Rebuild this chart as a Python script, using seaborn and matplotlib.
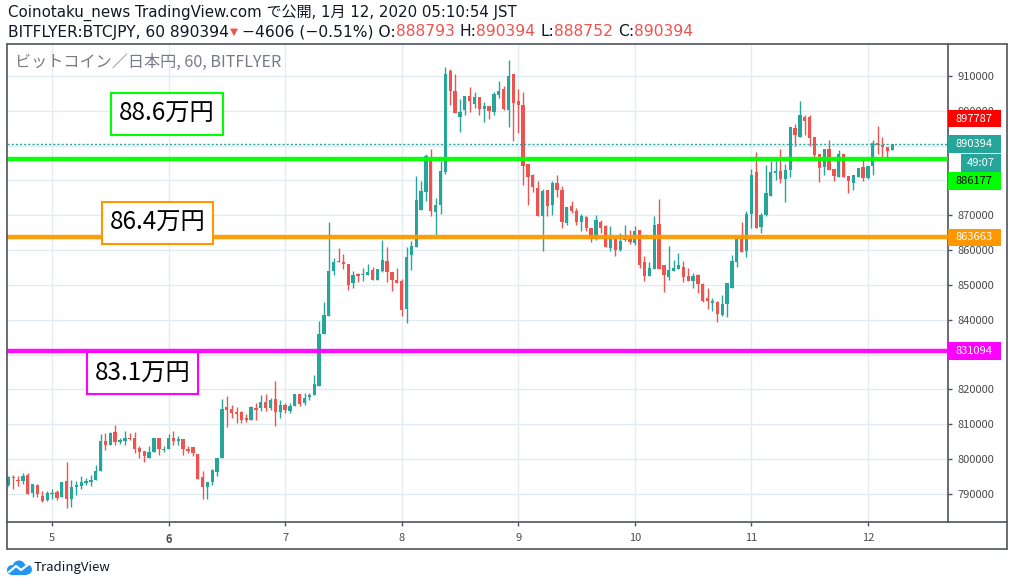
import matplotlib
matplotlib.use('Agg')
import numpy as np
import pandas as pd
import matplotlib.pyplot as plt
import matplotlib.transforms as mtransforms
from matplotlib.patches import Rectangle, Circle
import seaborn as sns

sns.set_theme(style='white')
plt.rcParams['font.family'] = ['Noto Sans CJK JP', 'DejaVu Sans']

# hourly BTC/JPY candles (thousand yen), starting 2020-01-04 15:00 JST
opens = [792.6, 795.0, 794.1, 793.6, 795.5, 790.3, 792.6, 789.4, 788.3, 790.0,
         790.5, 789.2, 793.6, 788.6, 791.9, 792.2, 793.2, 793.3, 794.1, 796.5,
         805.1, 804.0, 807.7, 804.9, 805.1, 806.0, 806.2, 803.2, 802.3, 800.4,
         802.0, 806.0, 802.6, 803.0, 806.0, 805.2, 805.7, 802.9, 803.4, 801.6,
         794.9, 792.0, 793.5, 796.4, 800.3, 815.0, 814.4, 813.6, 813.6, 811.9,
         811.3, 814.7, 814.7, 816.4, 814.7, 817.3, 813.6, 815.5, 813.9, 815.2,
         818.7, 816.0, 817.8, 818.3, 820.9, 835.8, 841.2, 854.1, 856.8, 856.7,
         856.1, 850.6, 853.0, 852.8, 852.8, 854.4, 851.5, 854.1, 856.8, 853.8,
         851.5, 851.2, 843.2, 858.5, 860.8, 871.6, 876.7, 886.0, 871.0, 872.9,
         882.3, 911.3, 905.8, 898.1, 900.1, 904.4, 902.1, 903.9, 900.6, 901.5,
         899.7, 904.6, 906.4, 900.3, 910.7, 902.7, 901.8, 884.8, 881.7, 877.8,
         869.7, 877.4, 872.9, 879.4, 877.4, 867.8, 872.6, 871.3, 868.0, 869.4,
         866.5, 863.2, 868.1, 866.8, 860.6, 863.3, 860.1, 862.8, 863.3, 862.0,
         865.9, 856.5, 852.7, 854.6, 867.6, 855.8, 852.4, 854.0, 854.6, 855.3,
         852.6, 851.1, 852.9, 850.4, 846.2, 844.8, 845.1, 841.5, 844.4, 849.2,
         856.6, 863.1, 859.8, 870.5, 882.3, 866.6, 870.0, 875.6, 882.2, 882.7,
         880.4, 883.0, 895.2, 892.5, 898.3, 898.3, 892.5, 887.5, 884.0, 889.0,
         883.2, 881.0, 887.5, 881.2, 879.3, 881.0, 883.9, 880.7, 884.2, 890.7,
         890.2, 889.5, 888.793]
highs = [795.2, 795.5, 795.2, 796.1, 796.1, 793.0, 792.9, 790.9, 790.9, 791.5,
         791.0, 793.5, 799.1, 794.1, 793.6, 795.2, 794.6, 795.5, 798.4, 807.3,
         807.6, 807.7, 809.7, 806.1, 808.0, 807.4, 807.7, 803.7, 802.3, 803.9,
         806.0, 806.2, 803.7, 807.1, 808.0, 806.7, 805.7, 803.9, 803.4, 801.6,
         796.5, 793.5, 797.2, 800.4, 817.3, 818.2, 815.6, 815.1, 813.8, 813.1,
         815.2, 816.0, 818.3, 818.7, 817.6, 822.3, 817.0, 816.2, 816.2, 818.7,
         818.7, 819.0, 819.0, 824.3, 839.7, 845.0, 868.2, 857.7, 860.7, 858.9,
         856.1, 854.1, 853.4, 854.9, 856.1, 855.2, 854.6, 863.0, 860.8, 853.8,
         854.9, 851.7, 860.8, 862.6, 881.4, 879.8, 887.7, 888.9, 875.0, 885.5,
         912.6, 912.1, 910.7, 903.5, 904.4, 906.7, 905.4, 903.9, 902.4, 901.5,
         905.3, 908.7, 907.0, 914.7, 910.7, 906.4, 905.3, 884.8, 882.0, 879.8,
         877.6, 877.4, 879.8, 881.7, 878.4, 872.4, 874.2, 872.1, 870.4, 869.7,
         866.5, 870.2, 868.7, 867.1, 867.0, 863.5, 864.9, 867.3, 865.9, 866.8,
         865.9, 858.2, 856.7, 869.9, 874.8, 855.8, 861.1, 857.2, 859.1, 856.9,
         854.8, 853.4, 853.2, 850.7, 849.1, 846.2, 845.3, 847.2, 850.6, 858.7,
         863.3, 868.1, 871.2, 883.3, 888.1, 870.8, 884.4, 885.6, 885.6, 889.1,
         884.6, 895.5, 896.2, 902.7, 898.7, 898.7, 892.5, 887.5, 889.0, 891.6,
         883.2, 888.7, 887.5, 881.2, 881.5, 883.6, 886.6, 884.2, 891.6, 895.7,
         892.6, 889.7, 890.394]
lows = [792.3, 791.5, 792.3, 792.8, 790.1, 789.0, 789.2, 787.8, 788.1, 788.6,
        788.4, 789.2, 786.0, 786.4, 789.8, 791.5, 792.7, 792.3, 794.1, 796.5,
        802.6, 804.0, 804.0, 804.4, 804.0, 805.4, 801.8, 800.2, 799.1, 800.4,
        802.0, 801.1, 802.1, 802.8, 804.2, 804.0, 801.3, 801.9, 801.0, 794.3,
        788.5, 788.5, 792.6, 795.2, 800.3, 809.3, 811.9, 810.5, 810.5, 810.8,
        811.3, 811.3, 813.9, 813.9, 814.2, 809.5, 811.9, 813.3, 813.3, 815.2,
        815.2, 815.5, 817.0, 818.3, 820.9, 835.8, 841.0, 852.9, 856.5, 854.7,
        848.6, 849.1, 851.0, 851.2, 852.8, 851.3, 851.5, 853.6, 851.0, 848.2,
        850.7, 841.0, 839.0, 854.4, 860.8, 871.6, 874.2, 869.9, 864.4, 870.4,
        882.0, 901.6, 899.3, 893.8, 898.9, 899.6, 900.8, 898.9, 896.7, 897.7,
        898.9, 903.7, 900.3, 895.3, 891.4, 893.6, 878.8, 873.1, 876.6, 869.7,
        859.7, 869.7, 870.2, 875.2, 866.5, 867.3, 870.7, 867.3, 865.6, 865.4,
        862.2, 863.0, 864.9, 860.8, 859.8, 858.4, 859.8, 862.5, 861.8, 861.5,
        855.0, 851.1, 852.7, 854.6, 854.6, 847.9, 851.4, 854.0, 854.6, 851.0,
        851.1, 849.2, 847.6, 845.1, 843.0, 842.5, 839.5, 841.0, 840.8, 849.2,
        855.2, 859.5, 858.0, 866.4, 866.4, 864.8, 869.9, 875.6, 880.1, 879.2,
        873.9, 881.1, 890.0, 892.5, 893.1, 890.0, 886.4, 879.6, 881.5, 883.0,
        879.9, 881.0, 881.0, 876.4, 877.2, 881.0, 879.8, 880.4, 881.5, 887.6,
        886.6, 886.5, 888.752]
closes = [794.8, 794.5, 793.6, 795.2, 790.1, 792.9, 789.9, 788.1, 790.4, 790.4,
          788.9, 793.5, 788.6, 791.9, 792.7, 793.5, 793.6, 793.9, 796.7, 805.1,
          804.2, 807.4, 804.9, 805.5, 806.0, 805.7, 802.8, 802.0, 800.8, 802.1,
          806.0, 802.8, 803.0, 806.0, 805.2, 805.8, 802.8, 802.2, 801.9, 794.3,
          792.0, 793.5, 796.8, 800.4, 814.4, 814.2, 813.2, 813.0, 811.3, 811.3,
          815.0, 814.1, 816.4, 814.7, 817.0, 813.6, 815.5, 814.1, 815.3, 818.7,
          815.9, 817.6, 818.5, 821.6, 836.0, 841.5, 854.1, 856.6, 856.5, 856.0,
          850.1, 853.0, 852.7, 853.1, 853.8, 851.3, 854.6, 857.3, 853.6, 851.3,
          850.7, 842.7, 858.1, 861.3, 874.3, 876.9, 886.9, 871.1, 873.0, 882.6,
          910.7, 905.6, 899.3, 899.7, 904.4, 902.7, 903.9, 900.6, 901.5, 899.9,
          904.9, 905.8, 900.6, 910.1, 902.2, 901.8, 884.1, 880.9, 878.0, 869.7,
          877.1, 872.6, 879.4, 877.4, 868.0, 872.4, 871.2, 868.0, 869.7, 866.5,
          863.3, 868.7, 866.5, 860.8, 863.5, 860.1, 862.7, 863.3, 862.2, 865.6,
          855.6, 852.7, 854.8, 867.3, 854.6, 852.9, 854.3, 854.8, 855.8, 852.4,
          851.1, 852.6, 850.2, 845.3, 845.3, 845.4, 841.7, 844.6, 850.6, 856.8,
          863.3, 859.5, 870.5, 881.6, 866.4, 870.0, 876.3, 882.3, 882.7, 880.4,
          883.0, 895.5, 893.1, 898.7, 897.2, 892.3, 887.3, 883.7, 889.0, 883.0,
          881.3, 887.5, 881.0, 879.9, 881.5, 883.6, 880.7, 884.2, 890.7, 890.2,
          889.5, 888.5, 890.394]

# horizontal levels drawn on the chart
level_prices = [886177, 863663, 831094]
level_colors = ['#00ff00', '#ff9800', '#ff00ff']
level_notes = ['88.6万円', '86.4万円', '83.1万円']
last_price = 890394
prev_price = 897787
y_ticks = list(range(790000, 910001, 10000))

UP, DOWN = '#26a69a', '#ef5350'
W, H = 1014, 586
HEAD_FONT = ['DejaVu Sans', 'Noto Sans CJK JP']

df = pd.DataFrame({'open': opens, 'high': highs, 'low': lows, 'close': closes}) * 1000
df['time'] = pd.date_range('2020-01-04 15:00', periods=len(df), freq='h')
df['idx'] = np.arange(len(df))
up = df['close'] >= df['open']
colors = np.where(up, UP, DOWN)

fig = plt.figure(figsize=(W / 100, H / 100), dpi=100)
fig.patch.set_facecolor('white')
ax = fig.add_axes([7 / W, (H - 521.5) / H, 941 / W, 478 / H])
ax.set_facecolor('white')

ax.set_xlim(-0.27, 193.5)
ax.set_ylim(782100, 919330)

day_idx = df.loc[df['time'].dt.hour == 0, 'idx'].values
day_lbl = [str(d) for d in df.loc[df['time'].dt.hour == 0, 'time'].dt.day]

for v in y_ticks:
    ax.axhline(v, color='#e1ecf2', lw=1, zorder=0)
for v in day_idx:
    ax.axvline(v, color='#e1ecf2', lw=1, zorder=0)

# candles
ax.vlines(df['idx'], df['low'], df['high'], colors=colors, lw=1, zorder=3)
body = (df['close'] - df['open']).abs().clip(lower=350)
ax.bar(df['idx'], body, bottom=df[['open', 'close']].min(axis=1), width=0.68,
       color=colors, linewidth=0, zorder=3)

# levels
for p, c in zip(level_prices, level_colors):
    ax.axhline(p, color=c, lw=3.2, zorder=4, alpha=0.95)
ax.axhline(last_price, color=UP, lw=1, ls=(0, (1.5, 1.5)), zorder=4)

# notes
note_pos = [(0.170, 0.853), (0.160, 0.625), (0.144, 0.310)]
for (xp, yp), txt, c in zip(note_pos, level_notes, level_colors):
    ax.text(xp, yp, txt, transform=ax.transAxes, fontsize=17.5, color='black',
            ha='center', va='center', zorder=6,
            bbox=dict(boxstyle='square,pad=0.33', fc='white', ec=c, lw=1.5))

ax.text(8 / 941, 1 - 18.5 / 478, 'ビットコイン／日本円, 60, BITFLYER', transform=ax.transAxes,
        fontsize=11.6, color='#787b86', ha='left', va='center', zorder=6)

# axes
for s in ['left', 'top']:
    ax.spines[s].set_visible(False)
for s in ['right', 'bottom']:
    ax.spines[s].set_color('#50535e')
    ax.spines[s].set_linewidth(1.2)
ax.yaxis.tick_right()
ax.set_yticks(y_ticks)
# labels fully hidden under the coloured price boxes are left blank
hidden = {890000, 830000}
ax.set_yticklabels(['' if v in hidden else str(v) for v in y_ticks])
ax.set_xticks(day_idx)
ax.set_xticklabels(day_lbl)
ax.tick_params(axis='y', length=3, width=1, color='#50535e', labelsize=8,
               labelcolor='#4a4a4a', pad=4, right=True, left=False)
ax.tick_params(axis='x', length=3, width=1, color='#50535e', labelsize=8,
               labelcolor='#4a4a4a', pad=5, bottom=True)
for lab in ax.get_xticklabels():
    if lab.get_text() == '6':
        lab.set_fontweight('bold')

# price labels on the axis
px = (919330 - 782100) / 478
blend = mtransforms.blended_transform_factory(ax.transAxes, ax.transData)
lbl_w = 52.5 / 941
labels = [(prev_price, 0, '#ff0000', 'white', str(prev_price)),
          (last_price, 0, UP, 'white', str(last_price)),
          (level_prices[0], 22, level_colors[0], 'black', str(level_prices[0])),
          (level_prices[1], 0, level_colors[1], 'white', str(level_prices[1])),
          (level_prices[2], 0, level_colors[2], 'white', str(level_prices[2]))]
for p, off, bg, fg, txt in labels:
    yc = p - off * px
    ax.add_patch(Rectangle((1.0, yc - 8.8 * px), lbl_w, 17.6 * px, transform=blend,
                           facecolor=bg, edgecolor='none', clip_on=False, zorder=5))
    ax.text(1.0 + lbl_w / 2, yc, txt, transform=blend, color=fg, fontsize=8,
            ha='center', va='center', zorder=6, clip_on=False)
yc = last_price - 19 * px
ax.add_patch(Rectangle((1.0 + 13 / 941, yc - 8.8 * px), 39.5 / 941, 17.6 * px, transform=blend,
                       facecolor=UP, edgecolor='none', clip_on=False, zorder=5))
ax.text(1.0 + 32.75 / 941, yc, '49:07', transform=blend, color='white', fontsize=8,
        ha='center', va='center', zorder=6, clip_on=False)

# outer frame
def fline(x0, y0, x1, y1):
    fig.add_artist(plt.Line2D([x0 / W, x1 / W], [1 - y0 / H, 1 - y1 / H],
                              color='#50535e', lw=1.2, transform=fig.transFigure))

fline(7, 43.5, 1007, 43.5)
fline(7, 43.5, 7, 549)
fline(7, 549, 1007, 549)
fline(1007, 43.5, 1007, 549)
fline(948, 521.5, 1007, 521.5)

# header
renderer = fig.canvas.get_renderer()


def put_runs(x_px, y_px, runs, size):
    x = x_px
    for s, c, gap, fs in runs:
        t = fig.text(x / W, 1 - y_px / H, s, color=c, fontsize=fs or size, ha='left',
                     va='center', family=HEAD_FONT)
        x += t.get_window_extent(renderer).width + gap


put_runs(8, 13, [('Coinotaku_news TradingView.com で公開, 1月 12, 2020 05:10:54 JST', '#131722', 0, None)], 10.85)
put_runs(8, 32, [('BITFLYER:BTCJPY, 60 890394', '#131722', 1, None),
                 ('▼', '#ef5350', 4, 7.5),
                 ('−4606 (−0.51%) O:', '#131722', 0, None),
                 ('888793', '#ef5350', 5, None),
                 ('H:', '#131722', 0, None),
                 ('890394', '#ef5350', 5, None),
                 ('L:', '#131722', 0, None),
                 ('888752', '#ef5350', 5, None),
                 ('C:', '#131722', 0, None),
                 ('890394', '#ef5350', 0, None)], 11.2)

# TradingView logo
lax = fig.add_axes([6 / W, (H - 575) / H, 27 / W, 15 / H])
lax.set_xlim(0, 27)
lax.set_ylim(0, 15)
lax.axis('off')
for cx, cy, r in [(6, 5, 5), (13, 8, 6.5), (21, 5.5, 5)]:
    lax.add_patch(Circle((cx, cy), r, color='#2196f3', lw=0))
lax.add_patch(Rectangle((6, 0), 15, 5, color='#2196f3', lw=0))
lax.plot([3, 10, 15, 23], [3, 9, 5, 11], color='white', lw=1.6)
fig.text(34 / W, 1 - 567 / H, 'TradingView', fontsize=9.5, color='#131722', ha='left', va='center')

fig.savefig('out.png', dpi=100)
